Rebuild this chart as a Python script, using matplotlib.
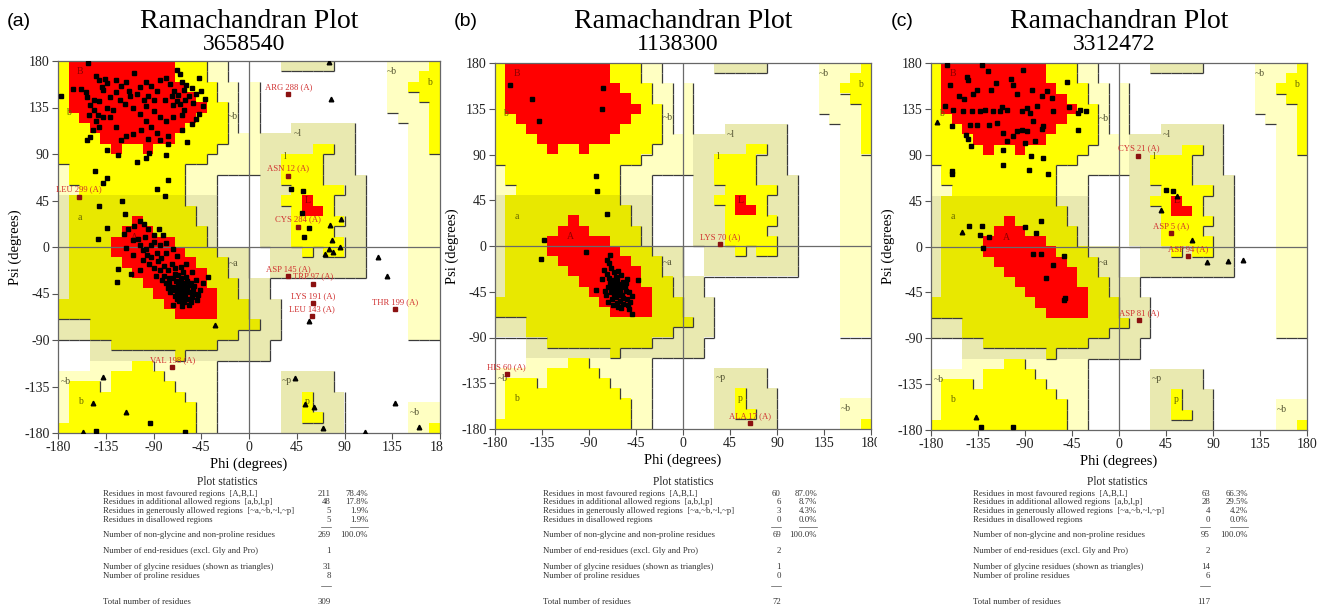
"""Three PROCHECK-style Ramachandran plots with their plot statistics tables."""

import matplotlib

matplotlib.use("Agg")
import matplotlib.pyplot as plt
from matplotlib.collections import LineCollection
from matplotlib.colors import ListedColormap
from matplotlib.lines import Line2D
from matplotlib.patches import Rectangle
import numpy as np

# region map: 36 rows (psi 180 -> -180) x 36 columns (phi -180 -> 180), 10 degree cells
# R core, Y/y allowed, P/p generously allowed, . disallowed
REGION_MAP = [
    "YRRRRRRRRRRYYYPP.." + "...ppppp.....PPPPY",
    "YRRRRRRRRRRYYYPP.." + ".............PPPYY",
    "YRRRRRRRRRRRYYYPP." + "P............PPYYY",
    "YRRRRRRRRRRRRYYPP." + "P............PPPYY",
    "YRRRRRRRRRRRRRYYP." + "P............PPPPY",
    "YYRRRRRRRRRRRYYYP." + "P.............PPPY",
    "YYYRRRRRRRRRYYYYP." + "P...pppppp.....PPY",
    "YYYYRRRRRRRYYYYYPP" + "Pppppppppp.....PPY",
    "YYYYYRYYRYYYYYYPPP" + "PpppppYYpp.....PPY",
    "YYYYYYYYYYYYYYPPPP" + "PppYYYYppp.....PPP",
    "PYYYYYYYYYYYPPPPPP" + "PppYYYYppp.....PPP",
    "PYYYYYYYYYYYPPP..." + ".ppYYYYpppp....PPP",
    "PPYYYYYYYYYYPPP..." + ".pppYYYYYpp....PPP",
    "pyyyyyyyyyyyppp..." + ".ppYYRYYppp....PPP",
    "pyyyyyyyyyyyypp..." + ".pppYRRYppp....PPP",
    "pyyyyyyRyyyyypp..." + ".pppYYYYYpp....PPP",
    "pyyyyyRRRyyyyyp..." + ".pppYYYYppp....PPP",
    "pyyyyRRRRRRyyyp..." + ".pppYYYYYpp....PPP",
    "pyyyyRRRRRRRyyyppp" + "..pppYpYYpp....PPP",
    "pyyyyyRRRRRRRyyypp" + "..ppppppppp....PPP",
    "pyyyyyyRRRRRRRyypp" + "..ppppppppp....PPP",
    "pyyyyyyyRRRRRRyyyp" + "pp.............PPP",
    "pyyyyyyyyRRRRRRyyp" + "pp.............PPP",
    "yyyyyyyyyyRRRRRyyy" + "ppp............PPP",
    "yyyyyyyyyyyRRRRyyy" + "ppp............PPP",
    "pppyyyyyyyyyyyyyyy" + "ypp............PPP",
    "pppyyyyyyyyyyyyyyp" + "ppp............PPP",
    "...ppyyyyyyyyyyppp" + "pp................",
    "...ppppppppypppppp" + "pp................",
    "...PPPPYYPPPPPP..." + "..................",
    "PPPPPYYYYYPPPPP..." + "...ppppp..........",
    "PYYYPYYYYYYPPPP..." + "...ppppp..........",
    "PYYYYYYYYYYYPPP..." + "...ppYppp.........",
    "PYYYYYYYYYYYYPP..." + "...ppYppp......PPP",
    "PYYYYYYYYYYYYPP..." + "...ppYYpp......PPP",
    "YYYYYYYYYYYYYPP..." + "...pppppp......PPY",
]
REGION_CODES = ".pPyYR"
REGION_COLOURS = ["#FFFFFF", "#E9E9B0", "#FFFFC2", "#E8E800", "#FFFF00", "#FF0000"]
REGION_LEVEL = {".": 0, "p": 1, "P": 1, "y": 2, "Y": 2, "R": 3}

REGION_LABELS = [
    ("B", -159, 170, "#8B0000"), ("b", -170, 130, "#666600"), ("~b", -15, 126, "#555533"),
    ("a", -159, 29, "#666600"), ("A", -108, 9, "#8B0000"), ("~a", -15, -16, "#555533"),
    ("L", 55, 45, "#8B0000"), ("l", 34, 88, "#666600"), ("~l", 46, 110, "#555533"),
    ("p", 55, -150, "#666600"), ("~p", 36, -129, "#555533"), ("~b", 135, 170, "#555533"),
    ("b", 170, 159, "#666600"), ("~b", 156, -160, "#555533"), ("~b", -173, -130, "#555533"),
    ("b", -159, -150, "#666600"),
]

PANEL_LETTERS = ["(a)", "(b)", "(c)"]
PANEL_IDS = ["3658540", "1138300", "3312472"]

# panel (a)
A_RESIDUES = [
    (-152, 178), (-177, 146), (-166, 153), (-158, 153), (-154, 150), (-153, 145), (-144, 165),
    (-141, 162), (-136, 163), (-139, 155), (-134, 159), (-146, 142), (-150, 137), (-141, 141),
    (-131, 145), (-125, 162), (-121, 156), (-116, 160), (-113, 151), (-108, 168), (-103, 155),
    (-97, 160), (-92, 156), (-87, 151), (-95, 146), (-90, 142), (-84, 162), (-78, 164),
    (-74, 158), (-68, 171), (-65, 167), (-63, 160), (-71, 151), (-61, 152), (-57, 146),
    (-60, 142), (-53, 139), (-47, 164), (-45, 151), (-41, 143), (-65, 138), (-72, 137),
    (-61, 133), (-63, 128), (-50, 124), (-54, 119), (-63, 113), (-58, 102), (-87, 110),
    (-92, 116), (-97, 122), (-102, 113), (-109, 109), (-116, 107), (-121, 104), (-125, 116),
    (-131, 126), (-138, 126), (-144, 122), (-147, 113), (-150, 106), (-153, 104), (-142, 128),
    (-134, 135), (-146, 133), (-128, 133), (-117, 138), (-109, 135), (-103, 129), (-90, 132),
    (-84, 126), (-78, 122), (-72, 126), (-99, 142), (-112, 146), (-106, 148), (-141, 116),
    (-151, 128), (-138, 152), (-122, 142), (-125, 150), (-97, 136), (-79, 142), (-73, 146),
    (-67, 147), (-68, 141), (-59, 157), (-54, 154), (-50, 148), (-43, 136), (-47, 129),
    (-76, 107), (-84, 104), (-95, 105),
    (-134, 94), (-123, 89), (-106, 82), (-97, 86), (-94, 91), (-78, 89), (-76, 100),
    (-145, 74), (-134, 67), (-138, 62), (-76, 65), (-87, 56), (-79, 49), (-141, 40),
    (-120, 45), (-117, 32), (-134, 18), (-142, 8),
    (40, 56), (51, 54), (50, 33), (57, 18), (52, 10),
    (-144, -178), (-60, -179), (-93, -170),
    (-118, 13), (-114, 17), (-108, 20), (-103, 25), (-99, 22), (-95, 17), (-90, 12), (-85, 17),
    (-81, 12), (-109, 7), (-103, 2), (-97, -2), (-92, 2), (-87, -6), (-83, -11), (-78, -6),
    (-73, -16), (-68, -9), (-64, -19), (-59, -16), (-54, -24), (-70, -26), (-75, -30),
    (-84, -22), (-94, -16), (-100, -13), (-109, -8), (-116, -1), (-123, -21), (-124, -34),
    (-111, -26), (-103, -22), (-78, -35), (-72, -39), (-65, -34), (-61, -42), (-56, -37),
    (-51, -45), (-46, -42), (-43, -35), (-39, -29), (-50, -32), (-59, -29), (-68, -45),
    (-64, -48), (-57, -50), (-75, -35), (-65, -39), (-59, -43), (-54, -48), (-49, -51),
    (-61, -53), (-68, -50), (-72, -56), (-57, -56), (-48, -46), (-66, -42), (-63, -40),
    (-60, -38), (-58, -41), (-62, -44), (-65, -46), (-60, -47), (-56, -44), (-53, -41),
    (-55, -35), (-62, -35), (-67, -37), (-70, -42), (-69, -33), (-64, -30), (-58, -33),
    (-52, -38), (-60, -50), (-66, -52), (-63, -57), (-55, -53), (-70, -47), (-74, -44),
    (-76, -40), (-72, -30), (-67, -27), (-62, -24), (-80, -28), (-82, -32), (-88, -28),
    (-90, -20), (-96, -8), (-80, -18), (-76, -22), (-70, -20), (-86, -14), (-92, -10),
    (-100, -3), (-105, 8), (-98, 10), (-90, 5), (-84, 2), (-78, 4), (-72, -2),
]
A_GLYCINES = [
    (75, 179), (77, 143), (76, 21), (87, 27), (78, 7), (86, 0), (72, -7), (75, -2), (79, -5),
    (122, -10), (130, -28), (-32, -75), (57, -72), (43, -127), (53, -152), (61, -155),
    (70, -175), (109, -179), (138, -151), (160, -174), (-138, -126), (-147, -151),
    (-116, -160), (-156, -179),
]
A_FLAGGED = [
    ("LEU 299 (A)", -160.5, 48.7), ("ARG 288 (A)", 37, 147.7), ("ASN 12 (A)", 37, 69),
    ("CYS 284 (A)", 46.4, 19.7), ("ASP 145 (A)", 37, -28), ("TRP 97 (A)", 60, -35.5),
    ("LYS 191 (A)", 60.6, -54), ("LEU 143 (A)", 59.6, -66.6), ("THR 199 (A)", 137.6, -60),
    ("VAL 198 (A)", -72.1, -116.5),
]
A_COUNTS = ["211", "48", "5", "5", "269", "1", "31", "8", "309"]
A_PERCENTS = ["78.4%", "17.8%", "1.9%", "1.9%", "100.0%"]

# panel (b)
B_RESIDUES = [
    (-165.7, 158.8), (-76.5, 155.8), (-144.3, 145), (-78, 134.5), (-137.6, 123),
    (-83.7, 68.7), (-82, 54), (-73.2, 31), (-133.2, 5.8), (-136.3, -12.8), (-93.3, -6.3),
    (-73, -14), (-71, -17), (-69, -22), (-76, -24), (-66, -26), (-73, -28), (-78, -32),
    (-68, -33), (-64, -30), (-59, -29), (-54, -32), (-57, -35), (-62, -37), (-67, -39),
    (-72, -40), (-75, -44), (-83, -43), (-64, -44), (-60, -43), (-56, -40), (-52, -45),
    (-58, -48), (-64, -50), (-68, -52), (-72, -55), (-60, -54), (-54, -52), (-49, -49),
    (-51, -55), (-57, -57), (-62, -60), (-59, -61), (-52, -62), (-49, -67), (-43, -33),
    (-70, -9), (-65, -35), (-61, -41), (-69, -45), (-66, -47), (-63, -56), (-55, -44),
    (-58, -38), (-62, -25), (-70, -36), (-74, -48), (-67, -58), (-53, -58), (-61, -48),
    (-65, -41), (-57, -51), (-71, -31), (-63, -33), (-60, -46), (-55, -36), (-68, -42),
]
B_GLYCINES = []
B_FLAGGED = [("LYS 70 (A)", 35.4, 2), ("ALA 17 (A)", 64.2, -174.1), ("HIS 60 (A)", -168.8, -125.8)]
B_COUNTS = ["60", "6", "3", "0", "69", "2", "1", "0", "72"]
B_PERCENTS = ["87.0%", "8.7%", "4.3%", "0.0%", "100.0%"]

# panel (c)
C_RESIDUES = [
    (-165, 178), (-161.8, 158.7), (-145.2, 166.3), (-144.5, 163), (-131.5, 178), (-125.1, 171.8),
    (-92.2, 173.5), (-101.1, 158.7), (-83, 153.2), (-122.8, 153.8), (-135.6, 153.2),
    (-152.9, 147.9), (-148.4, 144.7), (-166.6, 138.1), (-158.6, 134.2), (-149, 132.6),
    (-141, 132.6), (-133.1, 132.6), (-128, 134), (-120.3, 132.6), (-113.9, 132.6), (-112, 137),
    (-107, 134), (-93.2, 132.6), (-88, 136), (-85.2, 131), (-78.8, 137.5), (-74, 147.3),
    (-69.2, 152.2), (-64.4, 145.6), (-72.4, 118.5), (-82, 122.8), (-88.4, 113), (-93, 114),
    (-101.1, 108), (-107.5, 103.1), (-90, 101.5), (-80, 103), (-74, 115), (-63, 133),
    (-160.2, 117.8), (-146.5, 109.7), (-145, 105.5), (-141.7, 98.2), (-142.6, 119.5),
    (-136, 119.5), (-124.8, 119.5), (-117, 121), (-110.7, 111), (-98, 113), (-50, 161),
    (-38.9, 131), (-39.5, 114.6), (-37, 134), (-31.5, 133.2), (-47.5, 136.8), (-110.7, 94.3),
    (-84.2, 89), (-73, 86.4), (-111.4, 79.6), (-86.1, 75.3), (-68.2, 71.4), (-160.2, 73.7),
    (-160.2, 71.4), (-118, 160), (-98, 150), (-103, 164), (-140, 150),
    (-143.3, 19.7), (-131.5, 19.7), (-133.1, 11.2), (-124.8, 8.9), (-130.5, -1.6),
    (-90, 18.7), (-79.8, 13.2), (-74.6, 24.6), (-82, -7), (-74.3, -7), (-52.3, -9.7),
    (-62.8, -17.9), (-70.2, -31), (-51.6, -50.6), (-52.3, -52.3),
    (-132.1, -177.5), (-101.1, -177.5), (45.1, 55), (52.1, 54),
]
C_GLYCINES = [
    (-174.6, 121.8), (-150, 14.2), (-136.9, -167.7), (40, 35.4), (56, 49.8), (69.7, 6.6),
    (84.7, -15.3), (104.8, -14), (118.5, -13),
]
C_FLAGGED = [
    ("CYS 21 (A)", 18.6, 89.1), ("ASP 5 (A)", 49.9, 13.2), ("ASP 94 (A)", 66.5, -9.1),
    ("ASP 81 (A)", 19.6, -72.4),
]
C_COUNTS = ["63", "28", "4", "0", "95", "2", "14", "6", "117"]
C_PERCENTS = ["66.3%", "29.5%", "4.2%", "0.0%", "100.0%"]

STAT_ROWS = [
    "Residues in most favoured regions  [A,B,L]",
    "Residues in additional allowed regions  [a,b,l,p]",
    "Residues in generously allowed regions  [~a,~b,~l,~p]",
    "Residues in disallowed regions",
    "Number of non-glycine and non-proline residues",
    "Number of end-residues (excl. Gly and Pro)",
    "Number of glycine residues (shown as triangles)",
    "Number of proline residues",
    "Total number of residues",
]

W, H = 1330, 609
SERIF = ["Liberation Serif", "DejaVu Serif"]


def fx(px):
    return px / W


def fy(py):
    return 1 - py / H


def draw_regions(ax):
    codes = np.array([[REGION_CODES.index(ch) for ch in row] for row in REGION_MAP])
    cmap = ListedColormap(REGION_COLOURS)
    ax.imshow(codes, cmap=cmap, vmin=-0.5, vmax=len(REGION_COLOURS) - 0.5,
              extent=[-180, 180, -180, 180], origin="upper", interpolation="nearest",
              aspect="auto", zorder=0)
    lev = np.array([[REGION_LEVEL[ch] for ch in row] for row in REGION_MAP])
    segs = []
    for r in range(36):
        top = 180 - 10 * r
        for c in range(36):
            left = -180 + 10 * c
            if c < 35 and lev[r, c] > lev[r, c + 1] and lev[r, c] < 3:
                segs.append([(left + 10, top - 10), (left + 10, top)])
            if r < 35 and lev[r, c] > lev[r + 1, c] and lev[r, c] < 3:
                segs.append([(left, top - 10), (left + 10, top - 10)])
    ax.add_collection(LineCollection(segs, colors="#3a3a3a", linewidths=0.9, zorder=1))
    for txt, phi, psi, col in REGION_LABELS:
        ax.text(phi, psi, txt, color=col, fontsize=7, family=SERIF,
                ha="center", va="center", zorder=2)


def draw_panel(fig, box, letter_x, letter, ident, residues, glycines, flagged, counts,
               percents, cols, z):
    x0, y0, x1, y1 = box
    ax = fig.add_axes([fx(x0), fy(y1), fx(x1 - x0), (y1 - y0) / H])
    ax.set_zorder(z)
    draw_regions(ax)
    ax.axhline(0, color="#6a6a6a", lw=0.9, zorder=2)
    ax.axvline(0, color="#6a6a6a", lw=0.9, zorder=2)
    if residues:
        p = np.array(residues, dtype=float)
        ax.plot(p[:, 0], p[:, 1], "s", color="black", ms=3.3, zorder=4)
    if glycines:
        g = np.array(glycines, dtype=float)
        ax.plot(g[:, 0], g[:, 1], "^", color="black", ms=3.3, zorder=4)
    for name, phi, psi in flagged:
        ax.plot(phi, psi, "s", color="#8B1010", ms=3.3, zorder=5)
        ax.text(phi, psi + 3, name, color="#D03030", fontsize=6.2, family=SERIF,
                ha="center", va="bottom", zorder=6)
    ax.set_xlim(-180, 180)
    ax.set_ylim(-180, 180)
    ticks = list(range(-180, 181, 45))
    ax.set_xticks(ticks)
    ax.set_yticks(ticks)
    ax.set_xticklabels([str(t) for t in ticks], family=SERIF, fontsize=10, color="#222222")
    ax.set_yticklabels([str(t) for t in ticks], family=SERIF, fontsize=10, color="#222222")
    ax.tick_params(length=4, width=0.8, color="#555555", pad=2)
    for sp in ax.spines.values():
        sp.set_color("#666666")
        sp.set_linewidth(0.9)
    ax.set_xlabel("Phi (degrees)", family=SERIF, fontsize=10.5, labelpad=2)
    ax.set_ylabel("Psi (degrees)", family=SERIF, fontsize=10.5, labelpad=2)

    cx = (x0 + x1) / 2
    fig.text(fx(cx), fy(22), "Ramachandran Plot", family=SERIF, fontsize=20,
             ha="center", va="center")
    fig.text(fx(cx - 5), fy(45), ident, family=SERIF, fontsize=17, ha="center", va="center")
    fig.text(fx(letter_x), fy(21), letter, fontsize=14, ha="center", va="center",
             family=["Liberation Sans", "DejaVu Sans"])

    # statistics table
    head_x, tx, cnt_x, pct_x = cols
    fig.text(fx(head_x), fy(482), "Plot statistics", family=SERIF, fontsize=8.3,
             ha="center", va="center", color="#222222")
    row_y = [494, 502.5, 511, 519.5, 535, 551, 567, 575.5, 602]
    for i, (label, yy) in enumerate(zip(STAT_ROWS, row_y)):
        fig.text(fx(tx), fy(yy), label, family=SERIF, fontsize=6.3, ha="left",
                 va="center", color="#333333")
        fig.text(fx(cnt_x), fy(yy), counts[i], family=SERIF, fontsize=6.3, ha="right",
                 va="center", color="#333333")
        if i < len(percents):
            fig.text(fx(pct_x), fy(yy), percents[i], family=SERIF, fontsize=6.3,
                     ha="right", va="center", color="#333333")
    for yy, spans in [(527, [(cnt_x - 10, cnt_x), (pct_x - 18, pct_x)]),
                      (586, [(cnt_x - 10, cnt_x)])]:
        for a, b in spans:
            fig.add_artist(Line2D([fx(a), fx(b)], [fy(yy), fy(yy)], color="#555555", lw=0.5))
    return ax


fig = plt.figure(figsize=(W / 100, H / 100), dpi=100)
# each panel was pasted over the right edge of the one before it
for left, right, z in [(443, 877, 0.5), (877, W, 1.5)]:
    fig.add_artist(Rectangle((fx(left), fy(470)), fx(right - left), 415 / H,
                             transform=fig.transFigure, facecolor="white",
                             edgecolor="none", zorder=z))
draw_panel(fig, (58, 61, 440, 433), 19, PANEL_LETTERS[0], PANEL_IDS[0], A_RESIDUES,
           A_GLYCINES, A_FLAGGED, A_COUNTS, A_PERCENTS, (227, 103, 331, 368), 0)
draw_panel(fig, (495, 63, 871, 429), 466, PANEL_LETTERS[1], PANEL_IDS[1], B_RESIDUES,
           B_GLYCINES, B_FLAGGED, B_COUNTS, B_PERCENTS, (683, 543, 781, 817), 1)
draw_panel(fig, (931, 63, 1307, 430), 902, PANEL_LETTERS[2], PANEL_IDS[2], C_RESIDUES,
           C_GLYCINES, C_FLAGGED, C_COUNTS, C_PERCENTS, (1117, 973, 1210, 1248), 2)

assert all(len(r) == 36 for r in REGION_MAP) and len(REGION_MAP) == 36
fig.savefig("out.png", dpi=100)
